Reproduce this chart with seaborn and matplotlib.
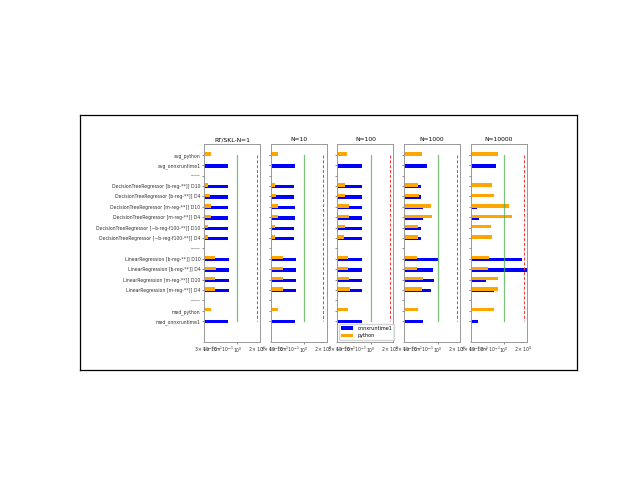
import numpy as np
import seaborn as sns
import matplotlib.pyplot as plt

nan = np.nan

row_labels = [
    "avg_python", "avg_onnxruntime1", "------",
    "DecisionTreeRegressor [b-reg-**]] D10",
    "DecisionTreeRegressor [b-reg-**]] D4",
    "DecisionTreeRegressor [m-reg-**]] D10",
    "DecisionTreeRegressor [m-reg-**]] D4",
    "DecisionTreeRegressor [~b-reg-f100-**]] D10",
    "DecisionTreeRegressor [~b-reg-f100-**]] D4",
    "------",
    "LinearRegression [b-reg-**]] D10",
    "LinearRegression [b-reg-**]] D4",
    "LinearRegression [m-reg-**]] D10",
    "LinearRegression [m-reg-**]] D4",
    "------", "med_python", "med_onnxruntime1",
]

titles = ["RT/SKL-N=1", "N=10", "N=100", "N=1000", "N=10000"]

# ratio runtime / sklearn, one list per panel
onnx_n1 = [nan, 0.72, nan, 0.70, 0.70, 0.72, 0.72, 0.70, 0.70, nan, 0.745, 0.75, 0.75, 0.745, nan, nan, 0.72]
python_n1 = [0.39, nan, nan, 0.35, 0.37, 0.38, 0.38, 0.345, 0.35, nan, 0.44, 0.46, 0.44, 0.45, nan, 0.38, nan]

onnx_n10 = [nan, 0.73, nan, 0.70, 0.70, 0.73, 0.73, 0.70, 0.70, nan, 0.75, 0.75, 0.75, 0.75, nan, nan, 0.71]
python_n10 = [0.39, nan, nan, 0.345, 0.36, 0.39, 0.39, 0.345, 0.345, nan, 0.46, 0.46, 0.46, 0.46, nan, 0.39, nan]

onnx_n100 = [nan, 0.73, nan, 0.73, 0.72, 0.735, 0.73, 0.73, 0.73, nan, 0.74, 0.73, 0.74, 0.73, nan, nan, 0.74]
python_n100 = [0.42, nan, nan, 0.39, 0.39, 0.46, 0.45, 0.39, 0.38, nan, 0.44, 0.44, 0.46, 0.47, nan, 0.44, nan]

onnx_n1000 = [nan, 0.69, nan, 0.55, 0.56, 0.60, 0.60, 0.55, 0.55, nan, 1.0, 0.85, 0.87, 0.80, nan, nan, 0.60]
python_n1000 = [0.57, nan, nan, 0.49, 0.51, 0.78, 0.81, 0.49, 0.49, nan, 0.47, 0.47, 0.59, 0.57, nan, 0.50, nan]

onnx_n10000 = [nan, 0.74, nan, 0.29, 0.31, 0.38, 0.40, 0.29, 0.31, nan, 1.92, 2.5, 0.52, 0.70, nan, nan, 0.39]
python_n10000 = [0.79, nan, nan, 0.64, 0.68, 1.18, 1.31, 0.62, 0.65, nan, 0.57, 0.56, 0.81, 0.81, nan, 0.68, nan]

onnx_all = [onnx_n1, onnx_n10, onnx_n100, onnx_n1000, onnx_n10000]
python_all = [python_n1, python_n10, python_n100, python_n1000, python_n10000]

pos = np.arange(len(row_labels))

fig = plt.figure(figsize=(6.4, 4.8), dpi=100)

# outer black frame
frame = fig.add_axes([80 / 640, 110 / 480, 497 / 640, 255 / 480])
frame.set_xticks([])
frame.set_yticks([])
for s in frame.spines.values():
    s.set_color("black")
    s.set_linewidth(0.9)

for i in range(5):
    ax = fig.add_axes([(204 + 66.7 * i) / 640, 138 / 480, 56 / 640, 198 / 480])

    onnx = np.array(onnx_all[i])
    py = np.array(python_all[i])
    m1 = ~np.isnan(onnx)
    m2 = ~np.isnan(py)

    # bars drawn on a linear axis, the log scale is set afterwards
    sns.barplot(x=onnx[m1], y=pos[m1] + 0.06, orient="y", native_scale=True,
                color="blue", saturation=1, width=0.32, errorbar=None,
                label="onnxruntime1", ax=ax)
    sns.barplot(x=py[m2], y=pos[m2] - 0.1, orient="y", native_scale=True,
                color="orange", saturation=1, width=0.32, errorbar=None,
                label="python", ax=ax)

    ax.plot([1, 1], [0, 16], color="#4dac4d", lw=0.9, alpha=0.75)
    ax.plot([2, 2], [0, 16], color="#ff3030", ls=(0, (3, 2)), lw=0.7)

    ax.set_xscale("log")
    ax.set_xlim(0.3, 2.25)
    ax.set_ylim(18.0, -1.05)
    ax.set_yticks(pos)
    if i == 0:
        ax.set_yticklabels(row_labels)
    else:
        ax.set_yticklabels([])
    ax.set_xlabel("")
    ax.set_ylabel("")
    ax.set_title(titles[i], fontsize=4.3, pad=2)
    ax.tick_params(axis="both", which="major", length=1.5, width=0.4, pad=1,
                   labelsize=3.3, colors="#333333")
    ax.tick_params(axis="x", which="minor", length=1.0, width=0.3, pad=1,
                   labelsize=3.3, colors="#333333")
    for s in ax.spines.values():
        s.set_color("#999999")
        s.set_linewidth(0.7)

    if i == 2:
        ax.legend(loc="lower left", fontsize=3.5, frameon=True,
                  borderaxespad=0.4, handlelength=2.5)
    else:
        leg = ax.get_legend()
        if leg is not None:
            leg.remove()

fig.savefig("out.png", dpi=100)
